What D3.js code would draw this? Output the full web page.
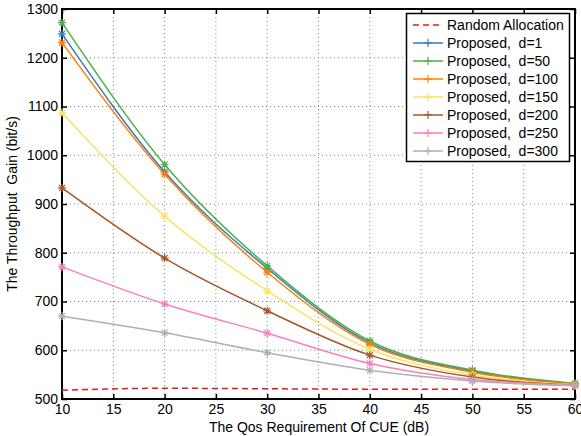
<!DOCTYPE html>
<html><head><meta charset="utf-8">
<script src="https://cdn.jsdelivr.net/npm/d3@7/dist/d3.min.js"></script>
<style>body{margin:0;background:#fff}svg{display:block;font-family:"Liberation Sans",Arial,sans-serif}</style>
</head><body><svg id="c" width="581" height="436"></svg>
<script>
const xValues = [10, 20, 30, 40, 50, 60];
const randomAlloc = [518, 522, 521, 520, 520, 520];
const d1   = [1249, 966, 768, 615, 557, 531];
const d50  = [1272, 981, 773, 619, 559, 532];
const d100 = [1231, 961, 760, 612, 555, 530];
const d150 = [1087, 875, 722, 602, 549, 529];
const d200 = [933, 789, 681, 590, 545, 528];
const d250 = [771, 695, 635, 573, 540, 528];
const d300 = [670, 636, 595, 559, 537, 527];
const seriesNames = ["Random Allocation","Proposed,  d=1","Proposed,  d=50","Proposed,  d=100","Proposed,  d=150","Proposed,  d=200","Proposed,  d=250","Proposed,  d=300"];
const seriesValues = [randomAlloc, d1, d50, d100, d150, d200, d250, d300];
const colors = ["#e41a1c","#377eb8","#4daf4a","#ff7f00","#f7e463","#a65628","#f781bf","#b0b0b0"];
const xTicks = [10,15,20,25,30,35,40,45,50,55,60];
const yTicks = [500,600,700,800,900,1000,1100,1200,1300];

const svg = d3.select("#c");
const L=62, R=575, T=9, B=399;
const x = d3.scaleLinear().domain([10,60]).range([L,R]);
const y = d3.scaleLinear().domain([500,1300]).range([B,T]);

// grid
const g = svg.append("g");
g.selectAll(".gx").data(xTicks.slice(1,-1)).enter().append("line")
 .attr("x1",d=>x(d)).attr("x2",d=>x(d)).attr("y1",T).attr("y2",B)
 .attr("stroke","#888").attr("stroke-width",1).attr("stroke-dasharray","1,3");
g.selectAll(".gy").data(yTicks.slice(1,-1)).enter().append("line")
 .attr("y1",d=>y(d)).attr("y2",d=>y(d)).attr("x1",L).attr("x2",R)
 .attr("stroke","#888").attr("stroke-width",1).attr("stroke-dasharray","1,3");

// axes
const fs = "14px";
const xa = svg.append("g").attr("transform",`translate(0,${B})`)
 .call(d3.axisBottom(x).tickValues(xTicks).tickSize(-5).tickPadding(5).tickFormat(d3.format("d")));
const xa2 = svg.append("g").attr("transform",`translate(0,${T})`)
 .call(d3.axisTop(x).tickValues(xTicks).tickSize(-5).tickFormat(""));
const ya = svg.append("g").attr("transform",`translate(${L},0)`)
 .call(d3.axisLeft(y).tickValues(yTicks).tickSize(-5).tickPadding(4).tickFormat(d3.format("d")));
const ya2 = svg.append("g").attr("transform",`translate(${R},0)`)
 .call(d3.axisRight(y).tickValues(yTicks).tickSize(-5).tickFormat(""));
[xa,xa2,ya,ya2].forEach(a=>{
  a.select(".domain").remove();
  a.selectAll("line").attr("stroke","#000").attr("stroke-width",1.5);
  a.selectAll("text").attr("fill","#000").style("font-size",fs).style("font-family","'Liberation Sans',Arial,sans-serif");
});
svg.append("rect").attr("x",L).attr("y",T).attr("width",R-L).attr("height",B-T)
 .attr("fill","none").attr("stroke","#000").attr("stroke-width",2);

// lines
const line = d3.line().x((d,i)=>x(xValues[i])).y(d=>y(d)).curve(d3.curveMonotoneX);
const plot = svg.append("g");
seriesValues.forEach((vals,k)=>{
  plot.append("path").datum(vals).attr("d",line).attr("fill","none")
   .attr("stroke",colors[k]).attr("stroke-width",1.5)
   .attr("stroke-dasharray", k===0 ? "6,4" : null);
  if(k>0){
    const m = plot.selectAll(null).data(vals).enter().append("g")
      .attr("transform",(d,i)=>`translate(${x(xValues[i])},${y(d)})`);
    m.append("path").attr("d","M-4,0H4M0,-4V4M-3,-3L3,3M-3,3L3,-3")
      .attr("stroke",colors[k]).attr("stroke-width",1.2);
  }
});

// legend
const lg = svg.append("g");
lg.append("rect").attr("x",406.5).attr("y",13.5).attr("width",163).attr("height",148)
 .attr("fill","#fff").attr("stroke","#000").attr("stroke-width",1.5);
seriesNames.forEach((n,k)=>{
  const yy = 25 + k*18;
  lg.append("line").attr("x1",413).attr("x2",443).attr("y1",yy).attr("y2",yy)
   .attr("stroke",colors[k]).attr("stroke-width",1.5).attr("stroke-dasharray",k===0?"6,4":null);
  if(k>0) lg.append("path").attr("d",`M424,${yy}H432M428,${yy-4}V${yy+4}`).attr("stroke",colors[k]).attr("stroke-width",1.2);
  lg.append("text").attr("x",447).attr("y",yy).attr("dy","0.35em").style("font-size","14px")
   .style("white-space","pre").attr("xml:space","preserve").text(n);
});

// labels
svg.append("text").attr("x",319).attr("y",432).attr("text-anchor","middle")
 .style("font-size","14px").text("The Qos Requirement Of CUE (dB)");
svg.append("text").attr("transform",`translate(17,${(T+B)/2}) rotate(-90)`).attr("text-anchor","middle")
 .style("font-size","14px").style("white-space","pre").attr("xml:space","preserve").text("The Throughput  Gain (bit/s)");
</script></body></html>
